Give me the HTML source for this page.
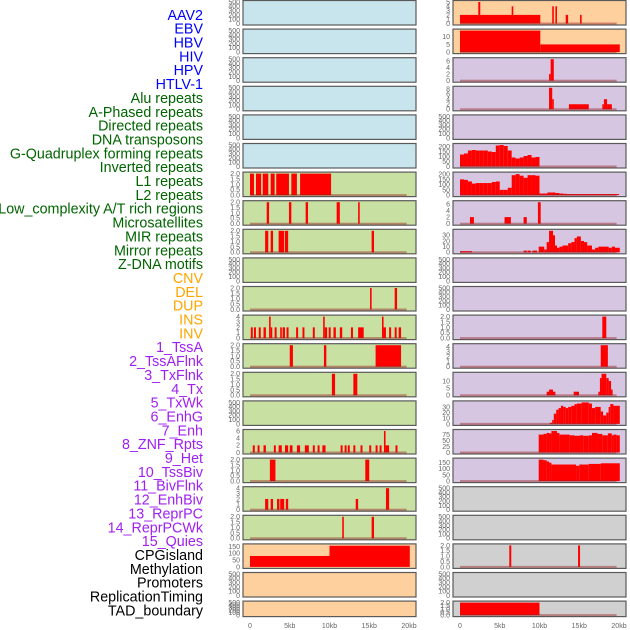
<!DOCTYPE html>
<html><head><meta charset="utf-8"><style>
body{margin:0;background:#fff;width:630px;height:630px;overflow:hidden}
svg{display:block}
</style></head><body>
<svg id="chart" width="630" height="630" xmlns="http://www.w3.org/2000/svg"></svg>
<script>
const labels=["AAV2","EBV","HBV","HIV","HPV","HTLV-1","Alu repeats","A-Phased repeats","Directed repeats","DNA transposons","G-Quadruplex forming repeats","Inverted repeats","L1 repeats","L2 repeats","Low_complexity A/T rich regions","Microsatellites","MIR repeats","Mirror repeats","Z-DNA motifs","CNV","DEL","DUP","INS","INV","1_TssA","2_TssAFlnk","3_TxFlnk","4_Tx","5_TxWk","6_EnhG","7_Enh","8_ZNF_Rpts","9_Het","10_TssBiv","11_BivFlnk","12_EnhBiv","13_ReprPC","14_ReprPCWk","15_Quies","CPGisland","Methylation","Promoters","ReplicationTiming","TAD_boundary"];
const labelColors=["#0000ff","#0000ff","#0000ff","#0000ff","#0000ff","#0000ff","#006400","#006400","#006400","#006400","#006400","#006400","#006400","#006400","#006400","#006400","#006400","#006400","#006400","#ffa500","#ffa500","#ffa500","#ffa500","#ffa500","#a020f0","#a020f0","#a020f0","#a020f0","#a020f0","#a020f0","#a020f0","#a020f0","#a020f0","#a020f0","#a020f0","#a020f0","#a020f0","#a020f0","#a020f0","#000","#000","#000","#000","#000"];
const xTicks=[0,5,10,15,20];
const xTickLabels=["0","5kb","10kb","15kb","20kb"];
const E=[0,100,200,300,400,500];
const T2=[0,0.5,1,1.5,2];
const leftTicks=[E,E,E,E,E,E,T2,T2,T2,E,T2,[0,1,2,3,4],T2,T2,E,[0,2,4,6],T2,[0,1,2,3,4],T2,[0,50,100,150],E,E];
const leftBars=[[],[],[],[],[],[],
[[0,0.5,2],[0.75,1.4,2],[1.6,2.3,2],[2.6,3.1,2],[3.3,4.9,2],[5.2,5.9,2],[6.3,10.2,2]],
[[2.1,2.4,2],[4.9,5.2,2],[7.0,7.3,2],[10.9,11.3,2],[13.6,13.8,2]],
[[1.9,2.3,2],[2.6,2.9,2],[3.6,4.3,2],[4.4,4.8,2],[15.3,15.6,2]],
[],
[[15.1,15.3,2],[18.2,18.5,2]],
[[0.1,0.35,2],[0.5,0.75,2],[1.1,1.35,2],[1.7,2.0,2],[2.4,2.6,4],[2.6,2.8,2],[3.1,3.35,2],[3.8,4.0,2],[4.1,4.4,2],[4.6,4.85,2],[5.8,6.05,2],[6.6,6.85,2],[7.9,8.15,2],[9.2,9.4,4],[9.4,9.7,2],[9.9,10.15,2],[10.5,10.8,2],[11.3,11.6,2],[12.7,12.95,2],[13.6,14.3,2],[16.6,16.8,4],[16.8,17.1,2],[17.5,17.75,2],[18.2,18.45,2],[18.7,19.0,2]],
[[5.0,5.4,2],[9.3,9.6,2],[15.8,19.0,2]],
[[10.3,10.7,2],[13.0,13.5,2]],
[],
[[0.35,0.6,2],[0.95,1.2,2],[1.7,2.0,2],[3.0,3.25,2],[3.6,4.0,2],[4.4,4.8,2],[5.0,5.35,2],[5.9,6.3,2],[6.9,7.4,2],[7.9,8.15,2],[8.5,8.75,2],[9.1,9.5,2],[11.4,11.65,2],[11.9,12.15,2],[12.3,12.55,2],[13.0,13.25,2],[13.9,14.15,2],[15.0,15.25,2],[15.8,16.05,2],[16.3,16.55,2],[16.85,17.05,6],[17.05,17.5,2],[18.3,18.55,2]],
[[2.5,3.2,2],[14.5,15.0,2]],
[[1.9,2.3,2],[2.6,2.9,2],[3.4,3.7,2],[3.8,4.3,2],[4.5,4.8,2],[13.3,13.6,2],[17.1,17.5,4]],
[[11.6,11.8,2],[15.3,15.6,2]],
[[0,10,80],[10,20.1,155]],
[],[]];
const leftBase=[0,0,0,0,0,0,1,1,1,0,1,1,1,1,0,1,1,1,1,0,0,0];
const leftBg=["#c8e4ec","#c8e4ec","#c8e4ec","#c8e4ec","#c8e4ec","#c8e4ec","#c8e0a2","#c8e0a2","#c8e0a2","#c8e0a2","#c8e0a2","#c8e0a2","#c8e0a2","#c8e0a2","#c8e0a2","#c8e0a2","#c8e0a2","#c8e0a2","#c8e0a2","#fed09e","#fed09e","#fed09e"];
const r5Profile=[120,130,160,165,160,160,160,150,145,210,215,205,160,90,80,90,105,115,90,95];
const r6Profile=[150,145,130,110,115,115,115,115,125,130,50,50,70,190,200,185,165,190,190,185,15,15,25,25,20,15,12,10,10,10,10,10,10,10,10,10,10,10,10,10];
const rightTicks=[[0,1,2,3,4,5],[0,5,10],[0,2,4,6],[0,2,4,6,8],E,[0,50,100,150,200],[0,50,100,150,200],[0,2,4,6],[0,10,20,30],E,E,T2,[0,1,2,3,4],[0,5,10],[0,10,20,30],[0,25,50,75],[0,50,100,150],E,E,T2,E,T2];
const rightYmax=[5,14,6.5,8.5,500,215,205,6.5,38,500,500,2,4.3,15,38,90,175,500,500,2,500,2];
const rightBars=[
[[0,10.1,2],[2.3,2.55,5],[6.5,6.7,4],[11.6,11.8,4],[12.0,12.2,4],[13.3,13.6,2],[15.1,15.3,2]],
[[0,10.1,14],[10.1,20.1,5]],
[[11.2,11.4,2],[11.4,11.8,6.5]],
[[11.2,11.6,8.5],[11.6,11.8,4],[13.7,16.2,2],[17.9,18.1,2],[18.1,18.5,4],[18.5,19.1,2]],
[],
"r5","r6",
[[1.25,1.75,2],[5.6,6.4,2],[8.0,8.4,2],[9.8,10.15,6.5]],
[[0,1.5,2],[8.0,8.4,3],[8.5,8.9,3],[9.1,9.7,3],[9.9,10.6,10],[10.6,10.9,5],[10.9,11.2,18],[11.2,11.7,38],[11.7,11.95,30],[11.95,12.2,12],[12.2,12.5,8],[12.5,12.9,10],[12.9,13.6,12],[13.6,14.0,16],[14.0,14.4,18],[14.4,14.7,25],[14.7,15.2,28],[15.2,15.6,20],[15.6,16.0,18],[16.0,16.6,12],[16.6,17.0,5],[17.0,17.4,8],[17.4,18.7,10],[18.7,19.1,8],[19.1,19.5,10],[19.5,20.1,8]],
[],[],
[[17.9,18.4,2]],
[[17.7,18.6,4.3]],
[[10.9,11.2,2.5],[11.2,11.7,4],[11.7,12.0,2.5],[14.3,14.97,2.5],[17.4,17.6,2.5],[17.6,17.8,12],[17.8,18.4,15],[18.4,18.7,12],[18.7,19.0,10],[19.0,19.2,4]],
[[11.3,11.6,2],[11.6,11.8,7],[11.8,12.1,18],[12.1,12.4,25],[12.4,12.7,28],[12.7,13.0,32],[13.0,13.3,30],[13.3,13.6,28],[13.6,14.0,30],[14.0,14.4,32],[14.4,14.7,35],[14.7,15.3,36],[15.3,16.2,38],[16.2,16.6,36],[16.6,17.0,28],[17.0,17.7,30],[17.7,18.0,22],[18.0,18.4,15],[18.4,18.7,20],[18.7,18.9,30],[18.9,19.3,35],[19.3,20.1,32]],
[[9.9,10.5,75],[10.5,10.9,78],[10.9,11.2,82],[11.2,11.5,80],[11.5,12.2,90],[12.2,12.5,82],[12.5,13.8,75],[13.8,14.4,72],[14.4,15.1,70],[15.1,15.5,72],[15.5,16.2,70],[16.2,16.6,72],[16.6,17.3,82],[17.3,17.9,78],[17.9,18.6,72],[18.6,19.1,80],[19.1,19.3,72],[19.3,19.7,75],[19.7,20.1,72]],
[[9.9,10.5,175],[10.5,10.9,170],[10.9,11.2,160],[11.2,11.5,150],[11.5,14.6,135],[14.6,15.0,125],[15.0,16.2,135],[16.2,17.7,140],[17.7,20.1,145]],
[],[],
[[6.2,6.45,2],[14.85,15.1,2]],
[],
[[0,10,2]]];
const rightBase=[1,1,1,1,0,1,1,1,1,0,0,1,1,1,1,1,1,0,0,1,0,1];
const rightBg=["#fed09e","#fed09e","#d6c6e2","#d6c6e2","#d6c6e2","#d6c6e2","#d6c6e2","#d6c6e2","#d6c6e2","#d6c6e2","#d6c6e2","#d6c6e2","#d6c6e2","#d6c6e2","#d6c6e2","#d6c6e2","#d6c6e2","#d0d0d0","#d0d0d0","#d0d0d0","#d0d0d0","#d0d0d0"];

const NS="http://www.w3.org/2000/svg";
const svg=document.getElementById("chart");
function mk(tag,attrs,parent){const e=document.createElementNS(NS,tag);for(const k in attrs)e.setAttribute(k,attrs[k]);(parent||svg).appendChild(e);return e;}

labels.forEach((t,i)=>{
  const e=mk("text",{x:203,y:19.8+i*13.85,"text-anchor":"end","font-family":"Liberation Sans, sans-serif","font-size":"14.3",fill:labelColors[i]});
  e.textContent=t;
  
  
});

function binsToBars(vals){return vals.map((v,i)=>[i*0.5,i*0.5+0.5,v]);}

function drawPanel(col,r,bg,ticks,ymax,bars,base){
  const x0=col===0?243:453, x1=col===0?416:626;
  const xs=kb=>(col===0?250:460)+kb*7.95;
  const top=0.5+r*28.6, h=(r===21?15.5:24.5);
  const yb=top+h-1.5, yt=top+1.5;
  const ys=v=>yb-(v/ymax)*(yb-yt);
  const g=mk("g",{});
  
  
  mk("rect",{x:x0,y:top,width:x1-x0,height:h,fill:bg,stroke:"#5a5a5a","stroke-width":1.2},g);
  ticks.forEach(t=>{
    const e=mk("text",{x:x0-3,y:ys(t)+2.4,"text-anchor":"end","font-family":"Liberation Sans, sans-serif","font-size":"7",fill:"#666"},g);
    e.textContent=(ticks===T2)?t.toFixed(1):String(t);
  });
  bars.forEach(b=>{
    const e=mk("rect",{x:xs(b[0]),y:ys(Math.min(b[2],ymax)),width:Math.max(xs(b[1])-xs(b[0]),1.5),height:yb-ys(Math.min(b[2],ymax)),fill:"#ff0000"},g);
    
    
  });
  if(base){mk("rect",{x:xs(0),y:yb-1,width:xs(19.7)-xs(0),height:2,fill:"rgba(150,30,30,0.45)"},g);}
}

for(let r=0;r<22;r++){
  const lt=leftTicks[r];
  drawPanel(0,r,leftBg[r],lt,lt[lt.length-1]*(r===19?1.05:1),leftBars[r],leftBase[r]);
  let rb=rightBars[r];
  if(rb==="r5")rb=binsToBars(r5Profile);
  if(rb==="r6")rb=binsToBars(r6Profile);
  drawPanel(1,r,rightBg[r],rightTicks[r],rightYmax[r],rb,rightBase[r]);
}
[0,1].forEach(col=>{
  xTicks.forEach((v,i)=>{
    const e=mk("text",{x:(col===0?250:460)+v*7.95,y:628,"text-anchor":"middle","font-family":"Liberation Sans, sans-serif","font-size":"7",fill:"#666"});
    e.textContent=xTickLabels[i];
    
    
  });
});
</script>
</body></html>
